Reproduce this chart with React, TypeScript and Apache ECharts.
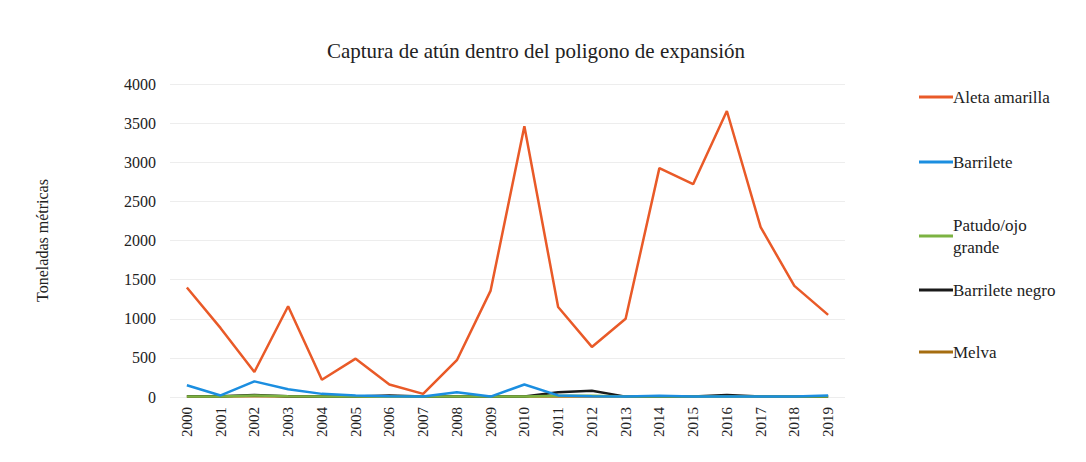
import React, { useEffect, useRef } from "react";
import * as echarts from "echarts";

const years = ["2000","2001","2002","2003","2004","2005","2006","2007","2008","2009","2010","2011","2012","2013","2014","2015","2016","2017","2018","2019"];
const aletaAmarilla = [1400, 880, 320, 1160, 220, 490, 160, 40, 470, 1360, 3460, 1150, 640, 1000, 2925, 2720, 3655, 2170, 1420, 1050];
const barrilete = [150, 20, 200, 100, 40, 20, 10, 5, 60, 5, 160, 20, 10, 5, 15, 5, 5, 5, 5, 20];
const patudo = [5, 5, 20, 10, 5, 5, 5, 5, 5, 5, 5, 15, 15, 5, 5, 5, 5, 5, 5, 5];
const barrileteNegro = [10, 10, 25, 10, 5, 5, 20, 5, 5, 5, 5, 60, 80, 5, 5, 5, 25, 5, 5, 5];
const melva = [5, 5, 10, 5, 5, 5, 5, 5, 5, 5, 5, 5, 5, 5, 5, 5, 5, 5, 5, 5];
const yTicks = [0, 500, 1000, 1500, 2000, 2500, 3000, 3500, 4000];

const seriesNames = ["Aleta amarilla", "Barrilete", "Patudo/ojo grande", "Barrilete negro", "Melva"];
const seriesColors = ["#e95a28", "#1b8ee0", "#7cb342", "#1a1a1a", "#a56d10"];
const seriesData = [aletaAmarilla, barrilete, patudo, barrileteNegro, melva];
const legendTops = [73, 138, 201, 266, 328];

export default function App() {
  const ref = useRef<HTMLDivElement>(null);
  useEffect(() => {
    const chart = echarts.init(ref.current!, null, { renderer: "svg" });
    const font = "'Liberation Serif', 'Times New Roman', serif";
    chart.setOption({
      animation: false,
      backgroundColor: "#ffffff",
      textStyle: { fontFamily: font },
      title: {
        text: "Captura de atún dentro del poligono de expansión",
        left: 523,
        textAlign: "center",
        top: 27,
        textStyle: { fontFamily: font, fontSize: 21, fontWeight: "normal", color: "#222" },
      },
      legend: seriesNames.map((n, i) => ({
        data: [n],
        left: 906,
        top: legendTops[i],
        orient: "vertical",
        icon: "rect",
        itemWidth: 34,
        itemHeight: 3,
        itemGap: 0,
        selectedMode: false,
        formatter: (name: string) => (name === "Patudo/ojo grande" ? "Patudo/ojo\ngrande" : name),
        textStyle: { fontFamily: font, fontSize: 17, color: "#222", padding: [0, 0, 0, -5], lineHeight: 22 },
      })),
      grid: { left: 162, right: 233, top: 76, bottom: 57 },
      xAxis: {
        type: "category",
        data: years,
        boundaryGap: true,
        axisLine: { show: false },
        axisTick: { show: false },
        axisLabel: { rotate: 90, fontFamily: font, fontSize: 15, color: "#222", margin: 10 },
      },
      yAxis: {
        type: "value",
        min: yTicks[0],
        max: yTicks[yTicks.length - 1],
        interval: 500,
        name: "Toneladas métricas",
        nameLocation: "middle",
        nameGap: 120,
        nameTextStyle: { fontFamily: font, fontSize: 16, color: "#222" },
        axisLabel: { fontFamily: font, fontSize: 16, color: "#222", margin: 14, formatter: (v: number) => String(v) },
        splitLine: { lineStyle: { color: "#ededed", width: 1 } },
        axisLine: { show: false },
        axisTick: { show: false },
      },
      series: seriesNames.map((n, i) => ({
        name: n,
        type: "line",
        data: seriesData[i],
        symbol: "none",
        color: seriesColors[i],
        lineStyle: { width: 2.5, color: seriesColors[i] },
        z: 10 - i,
      })),
    });
    return () => chart.dispose();
  }, []);
  return <div ref={ref} style={{ width: 1070, height: 446 }} />;
}
